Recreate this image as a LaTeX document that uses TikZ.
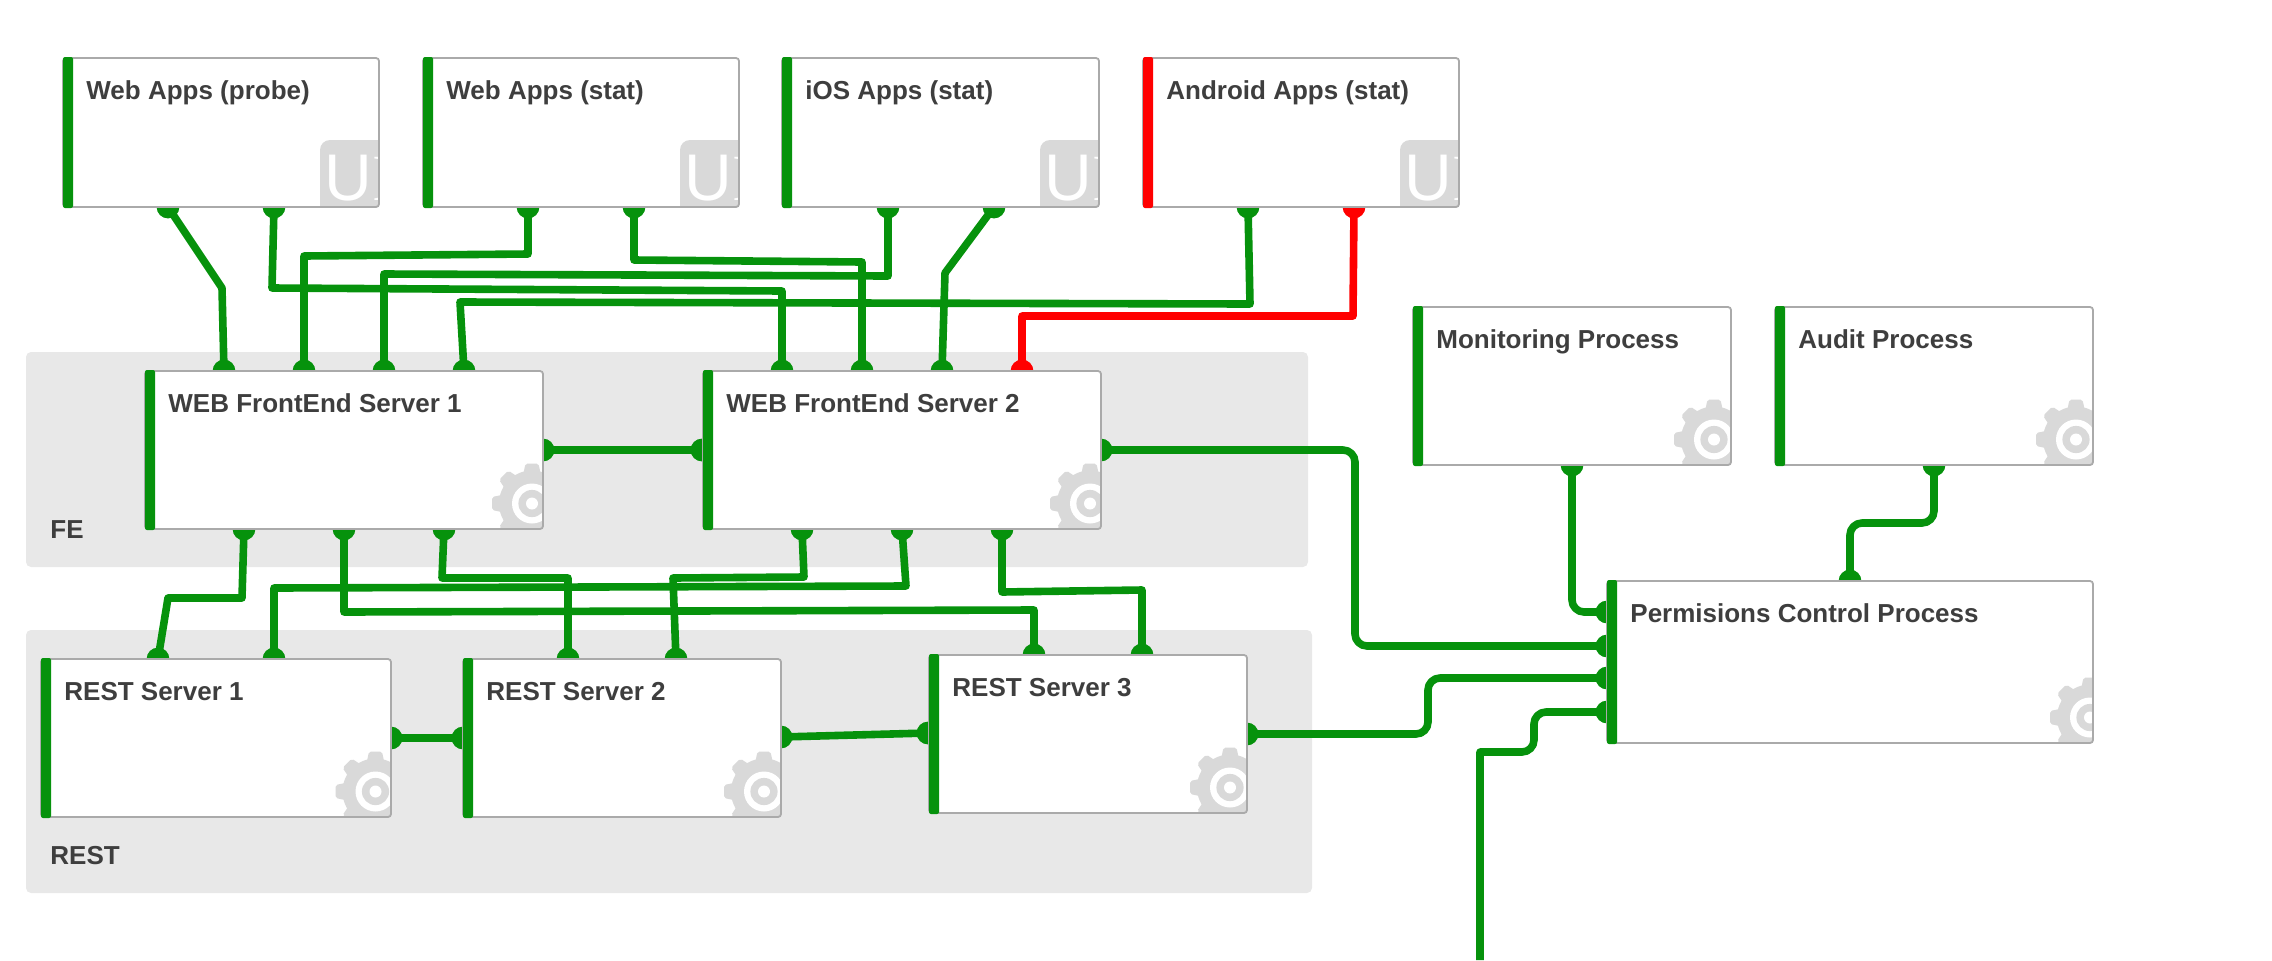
\documentclass[tikz,border=0pt]{standalone}
\usepackage{fontspec}
\setmainfont{Liberation Sans}
\newfontfamily\uiserif{Liberation Serif}
\definecolor{linkgreen}{HTML}{06920C}
\definecolor{linkred}{HTML}{FF0000}
\definecolor{groupfill}{HTML}{E8E8E8}
\definecolor{iconfill}{HTML}{D9D9D9}
\definecolor{edgegrey}{HTML}{AAAAAA}
\definecolor{titleink}{HTML}{3E3E3E}
\tikzset{
  x=0.5pt,y=-0.5pt,
  groupbox/.style={fill=groupfill,rounded corners=2.5pt,inner sep=0pt,outer sep=0pt},
  procbox/.style={fill=white,inner sep=0pt,outer sep=0pt,rounded corners=1.5pt},
  boxedge/.style={draw=edgegrey,line width=0.9pt,rounded corners=1.5pt},
  titletext/.style={font=\bfseries\fontsize{13pt}{15pt}\selectfont,text=titleink,anchor=base west,inner sep=0pt},
  uitext/.style={font=\fontsize{33pt}{35pt}\selectfont,text=white,anchor=base west,inner sep=0pt},
  portg/.style={circle,fill=linkgreen,minimum size=11.4pt,inner sep=0pt,outer sep=0pt},
  portr/.style={circle,fill=linkred,minimum size=11.4pt,inner sep=0pt,outer sep=0pt},
  linkg/.style={draw=linkgreen,line width=3.8pt,line join=round},
  linkr/.style={draw=linkred,line width=3.8pt,line join=round},
  linkround/.style={linkg,rounded corners=6pt},
}
\newcommand{\gearicon}[5]{% x1 y1 x2 y2 cx-offset
  \begin{scope}
    \clip[rounded corners=1.5pt] (#1,#2) rectangle (#3,#4);
    \begin{scope}[shift={(#3#5,#4-25.5)}]
      \fill[iconfill] (0,0) circle[radius=16.5pt];
      \foreach \a in {0,45,...,315}{
        \fill[iconfill,rotate=\a,rounded corners=1pt] (-9,-28) -- (-6.5,-40) -- (6.5,-40) -- (9,-28) -- cycle;
      }
      \fill[white] (0,0) circle[radius=10pt];
      \fill[iconfill] (0,0) circle[radius=6.8pt];
      \fill[white] (0,0) circle[radius=3pt];
    \end{scope}
  \end{scope}
}
\newcommand{\uibox}[7]{% id x1 y1 x2 y2 title colour
  \node[procbox,minimum width={(#4-#2)*0.5pt},minimum height={(#5-#3)*0.5pt}] (#1) at ({(#2+#4)/2},{(#3+#5)/2}) {};
  \begin{scope}
    \clip[rounded corners=1.5pt] (#2,#3) rectangle (#4,#5);
    \fill[iconfill,rounded corners=5pt] (#4-59,#5-67) rectangle (#4+10,#5+10);
    \node[uitext] (#1-ui) at (#4-55,#5-7) {U{\uiserif I}};
  \end{scope}
  \draw[boxedge] (#2,#3) rectangle (#4,#5);
  \fill[#7,rounded corners=1pt] (#2,#3-1) -- (#2+10,#3-1) -- (#2+10,#5+1) -- (#2,#5+1) -- cycle;
  \node[titletext] (#1-title) at (#2+23,#3+41) {#6};
}
\newcommand{\gearbox}[7]{% id x1 y1 x2 y2 title offset
  \node[procbox,minimum width={(#4-#2)*0.5pt},minimum height={(#5-#3)*0.5pt}] (#1) at ({(#2+#4)/2},{(#3+#5)/2}) {};
  \gearicon{#2}{#3}{#4}{#5}{#7}
  \draw[boxedge] (#2,#3) rectangle (#4,#5);
  \fill[linkgreen,rounded corners=1pt] (#2,#3-1) -- (#2+10,#3-1) -- (#2+10,#5+1) -- (#2,#5+1) -- cycle;
  \node[titletext] (#1-title) at (#2+23,#3+41) {#6};
}
\begin{document}
\begin{tikzpicture}
\useasboundingbox (0,0) rectangle (2272,960);
% groups
\node[groupbox,minimum width=641pt,minimum height=107.5pt] (fegroup) at ({(26+1308)/2},{(352+567)/2}) {};
\node[groupbox,minimum width=643pt,minimum height=131.5pt] (restgroup) at ({(26+1312)/2},{(630+893)/2}) {};
\node[titletext] (felabel) at (50,538) {FE};
\node[titletext] (restlabel) at (50,864) {REST};
% ports
\node[portg] (wp1) at (168,207) {};
\node[portg] (wp2) at (274,207) {};
\node[portg] (ws1) at (528,207) {};
\node[portg] (ws2) at (634,207) {};
\node[portg] (io1) at (888,207) {};
\node[portg] (io2) at (994,207) {};
\node[portg] (an1) at (1248,207) {};
\node[portr] (an2) at (1354,207) {};
\node[portg] (f1t1) at (224,371) {};
\node[portg] (f1t2) at (304,371) {};
\node[portg] (f1t3) at (384,371) {};
\node[portg] (f1t4) at (464,371) {};
\node[portg] (f2t1) at (782,371) {};
\node[portg] (f2t2) at (862,371) {};
\node[portg] (f2t3) at (942,371) {};
\node[portr] (f2t4) at (1022,371) {};
\node[portg] (f1r) at (543,450) {};
\node[portg] (f2l) at (702,450) {};
\node[portg] (f2r) at (1101,450) {};
\node[portg] (f1b1) at (244,529) {};
\node[portg] (f1b2) at (344,529) {};
\node[portg] (f1b3) at (444,529) {};
\node[portg] (f2b1) at (802,529) {};
\node[portg] (f2b2) at (902,529) {};
\node[portg] (f2b3) at (1002,529) {};
\node[portg] (r1t1) at (158,659) {};
\node[portg] (r1t2) at (274,659) {};
\node[portg] (r2t1) at (568,659) {};
\node[portg] (r2t2) at (676,659) {};
\node[portg] (r3t1) at (1034,655) {};
\node[portg] (r3t2) at (1142,655) {};
\node[portg] (r1r) at (391,738) {};
\node[portg] (r2l) at (463,738) {};
\node[portg] (r2r) at (781,737) {};
\node[portg] (r3l) at (928,733) {};
\node[portg] (r3r) at (1247,734) {};
\node[portg] (mob) at (1572,465) {};
\node[portg] (aub) at (1934,465) {};
\node[portg] (pet) at (1850,581) {};
\node[portg] (pel1) at (1607,612) {};
\node[portg] (pel2) at (1607,646) {};
\node[portg] (pel3) at (1607,678) {};
\node[portg] (pel4) at (1607,712) {};
\coordinate (offpage) at (1480,960);
% connectors
\draw[linkg] (wp1.center) -- (172,213) -- (222,288) -- (f1t1.center);
\draw[linkg] (wp2.center) -- (272,288) -- (782,291) -- (f2t1.center);
\draw[linkg] (ws1.center) -- (528,254) -- (304,256) -- (f1t2.center);
\draw[linkg] (ws2.center) -- (634,260) -- (862,262) -- (f2t2.center);
\draw[linkg] (io1.center) -- (888,276) -- (384,274) -- (f1t3.center);
\draw[linkg] (io2.center) -- (945,273) -- (f2t3.center);
\draw[linkg] (an1.center) -- (1250,304) -- (460,302) -- (f1t4.center);
\draw[linkr] (an2.center) -- (1353,316) -- (1022,316) -- (f2t4.center);
\draw[linkg] (f1r.center) -- (f2l.center);
\draw[linkg] (f1b1.center) -- (242,598) -- (168,598) -- (r1t1.center);
\draw[linkg] (f1b2.center) -- (344,612) -- (1034,610) -- (r3t1.center);
\draw[linkg] (f1b3.center) -- (442,578) -- (568,578) -- (r2t1.center);
\draw[linkg] (f2b1.center) -- (804,577) -- (673,578) -- (r2t2.center);
\draw[linkg] (f2b2.center) -- (906,586) -- (274,588) -- (r1t2.center);
\draw[linkg] (f2b3.center) -- (1002,592) -- (1142,590) -- (r3t2.center);
\draw[linkg] (r1r.center) -- (r2l.center);
\draw[linkg] (r2r.center) -- (r3l.center);
\draw[linkround] (f2r.center) -- (1355,450) -- (1355,646) -- (pel2.center);
\draw[linkround] (r3r.center) -- (1428,734) -- (1428,678) -- (pel3.center);
\draw[linkround] (mob.center) -- (1572,612) -- (pel1.center);
\draw[linkround] (aub.center) -- (1934,523) -- (1850,523) -- (pet.center);
\draw[linkg] (offpage) -- (1480,752) [rounded corners=6pt] -- (1534,752) -- (1534,712) -- (pel4.center);
% boxes
\uibox{webprobe}{63}{58}{379}{207}{Web Apps (probe)}{linkgreen}
\uibox{webstat}{423}{58}{739}{207}{Web Apps (stat)}{linkgreen}
\uibox{iosstat}{782}{58}{1099}{207}{iOS Apps (stat)}{linkgreen}
\uibox{androidstat}{1143}{58}{1459}{207}{Android Apps (stat)}{linkred}
\gearbox{fe1}{145}{371}{543}{529}{WEB FrontEnd Server 1}{-11}
\gearbox{fe2}{703}{371}{1101}{529}{WEB FrontEnd Server 2}{-11}
\gearbox{rest1}{41}{659}{391}{817}{REST Server 1}{-15.5}
\gearbox{rest2}{463}{659}{781}{817}{REST Server 2}{-17}
\gearbox{rest3}{929}{655}{1247}{813}{REST Server 3}{-17}
\gearbox{mon}{1413}{307}{1731}{465}{Monitoring Process}{-17}
\gearbox{aud}{1775}{307}{2093}{465}{Audit Process}{-17}
\gearbox{perm}{1607}{581}{2093}{743}{Permisions Control Process}{-3}
\end{tikzpicture}
\end{document}
